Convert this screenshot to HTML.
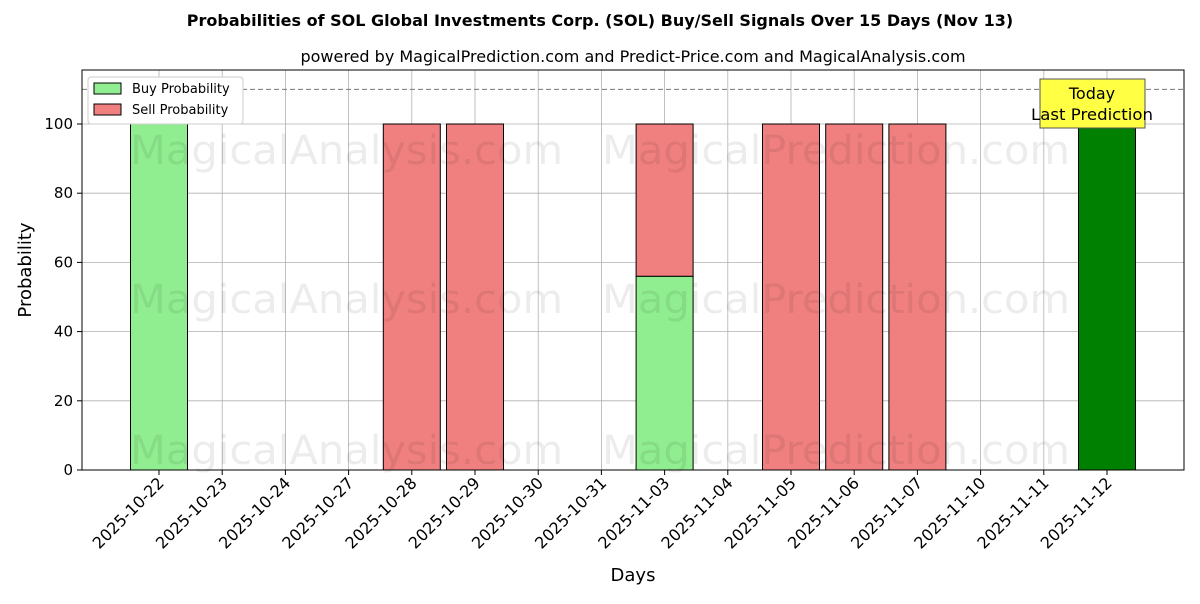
<!DOCTYPE html>
<html><head><meta charset="utf-8"><style>
body{margin:0;background:#fff;font-family:"DejaVu Sans","Liberation Sans",sans-serif}
svg text{font-family:"DejaVu Sans","Liberation Sans",sans-serif}
</style></head><body>
<svg id="chart" width="1200" height="600" xmlns="http://www.w3.org/2000/svg">
<rect width="1200" height="600" fill="#fff"/>
<text x="600" y="26" text-anchor="middle" font-size="16" font-weight="bold">Probabilities of SOL Global Investments Corp. (SOL) Buy/Sell Signals Over 15 Days (Nov 13)</text>
<text x="633" y="62" text-anchor="middle" font-size="16">powered by MagicalPrediction.com and Predict-Price.com and MagicalAnalysis.com</text>
<g id="grid"></g>
<g id="bars"></g>
<g id="wm" fill="#000" opacity="0.07" font-size="40">
<text x="130" y="164" textLength="433" lengthAdjust="spacingAndGlyphs">MagicalAnalysis.com</text>
<text x="602" y="164" textLength="468" lengthAdjust="spacingAndGlyphs">MagicalPrediction.com</text>
<text x="130" y="313" textLength="433" lengthAdjust="spacingAndGlyphs">MagicalAnalysis.com</text>
<text x="602" y="313" textLength="468" lengthAdjust="spacingAndGlyphs">MagicalPrediction.com</text>
<text x="130" y="464" textLength="433" lengthAdjust="spacingAndGlyphs">MagicalAnalysis.com</text>
<text x="602" y="464" textLength="468" lengthAdjust="spacingAndGlyphs">MagicalPrediction.com</text>
</g>
<g id="axes"></g>
<rect x="82" y="70" width="1102" height="400" fill="none" stroke="#000" stroke-width="1"/>
<text x="633" y="581" text-anchor="middle" font-size="18">Days</text>
<text transform="translate(31,270) rotate(-90)" text-anchor="middle" font-size="18">Probability</text>
<g>
<rect x="1040" y="79" width="105" height="49" fill="#ffff44" stroke="#555" stroke-width="1"/>
<text x="1092" y="99" text-anchor="middle" font-size="16">Today</text>
<text x="1092" y="120" text-anchor="middle" font-size="16" textLength="122" lengthAdjust="spacingAndGlyphs">Last Prediction</text>
</g>
<g>
<rect x="88" y="77" width="155" height="47" fill="#fff" stroke="#ccc" rx="3"/>
<g><rect x="94" y="83" width="27" height="11" fill="#90ee90" stroke="#000"/><text x="132" y="93" font-size="13">Buy Probability</text></g>
<g><rect x="94" y="104" width="27" height="11" fill="#f08080" stroke="#000"/><text x="132" y="114" font-size="13">Sell Probability</text></g>
</g>
</svg>
<script>
const categories=["2025-10-22","2025-10-23","2025-10-24","2025-10-27","2025-10-28","2025-10-29","2025-10-30","2025-10-31","2025-11-03","2025-11-04","2025-11-05","2025-11-06","2025-11-07","2025-11-10","2025-11-11","2025-11-12"];
const buyValues=[100,0,0,0,0,0,0,0,56,0,0,0,0,0,0,100];
const sellValues=[0,0,0,0,100,100,0,0,44,0,100,100,100,0,0,0];
const yTicks=[0,20,40,60,80,100];
const thresholdValue=110;
const NS="http://www.w3.org/2000/svg";
const x=i=>159+i*63.2;
const y=v=>470-v*3.46;
const bw=57;
function mk(t,a,p){const e=document.createElementNS(NS,t);for(const k in a)e.setAttribute(k,a[k]);p.appendChild(e);return e;}
const grid=document.getElementById('grid'),bars=document.getElementById('bars'),axes=document.getElementById('axes');
categories.forEach((c,i)=>{
 const l=mk('line',{x1:x(i),x2:x(i),y1:70,y2:470,stroke:'#b0b0b0','stroke-width':0.8},grid);
 
 
 mk('line',{x1:x(i),x2:x(i),y1:470,y2:475,stroke:'#000'},axes);
 const ax=x(i)+6, ay=484;
 const t=mk('text',{x:ax,y:ay,'font-size':16,'text-anchor':'end',transform:`rotate(-45 ${ax} ${ay})`},axes);
 t.textContent=c;
 
 
});
yTicks.forEach(v=>{
 const l=mk('line',{x1:82,x2:1184,y1:y(v),y2:y(v),stroke:'#b0b0b0','stroke-width':0.8},grid);
 
 
 mk('line',{x1:77,x2:82,y1:y(v),y2:y(v),stroke:'#000'},axes);
 const t=mk('text',{x:73,y:y(v)+5,'font-size':15,'text-anchor':'end'},axes);
 t.textContent=v;
 
 
});
const th=mk('line',{x1:82,x2:1184,y1:y(thresholdValue),y2:y(thresholdValue),stroke:'#777','stroke-dasharray':'5,3'},grid);


categories.forEach((c,i)=>{
 const last=i===categories.length-1;
 if(buyValues[i]>0){
  const r=mk('rect',{x:x(i)-bw/2,y:y(buyValues[i]),width:bw,height:y(0)-y(buyValues[i]),fill:last?'#008000':'#90ee90',stroke:'#000'},bars);
  
  
 }
 if(sellValues[i]>0){
  const r=mk('rect',{x:x(i)-bw/2,y:y(buyValues[i]+sellValues[i]),width:bw,height:y(buyValues[i])-y(buyValues[i]+sellValues[i]),fill:'#f08080',stroke:'#000'},bars);
  
  
 }
});
</script>
</body></html>
